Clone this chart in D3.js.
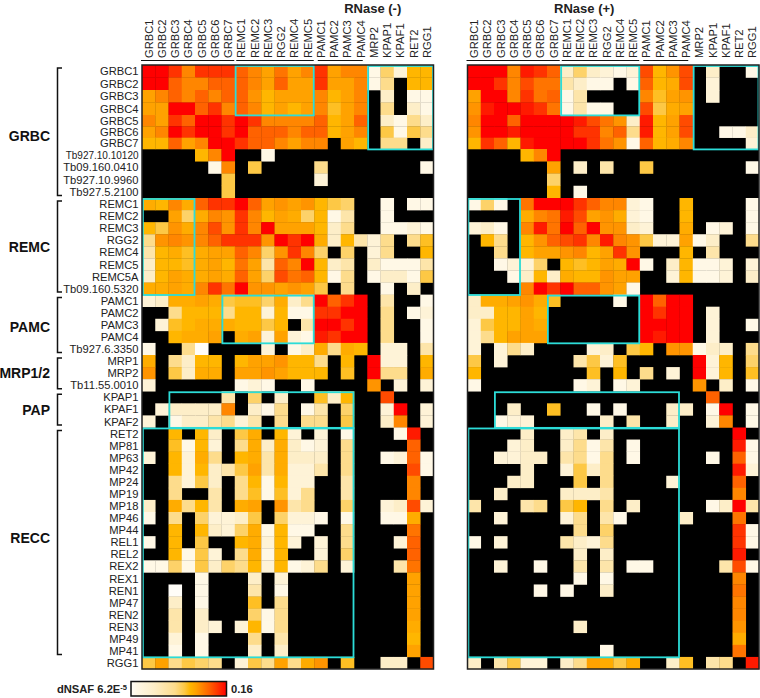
<!DOCTYPE html>
<html>
<head>
<meta charset="utf-8">
<script src="https://cdn.jsdelivr.net/npm/d3@7"></script>
<style>
  html, body { margin: 0; padding: 0; background: #fff; }
  text { font-family: "Liberation Sans", Arial, sans-serif; }
</style>
</head>
<body>
<div id="chart"></div>
<script>
// column and row names
var columns = ["GRBC1","GRBC2","GRBC3","GRBC4","GRBC5","GRBC6","GRBC7","REMC1","REMC2","REMC3","RGG2","REMC4","REMC5","PAMC1","PAMC2","PAMC3","PAMC4","MRP2","KPAP1","KPAF1","RET2","RGG1"]
var rows = ["GRBC1","GRBC2","GRBC3","GRBC4","GRBC5","GRBC6","GRBC7","Tb927.10.10120","Tb09.160.0410","Tb927.10.9960","Tb927.5.2100",
  "REMC1","REMC2","REMC3","RGG2","REMC4","REMC5","REMC5A","Tb09.160.5320",
  "PAMC1","PAMC2","PAMC3","PAMC4","Tb927.6.3350",
  "MRP1","MRP2","Tb11.55.0010",
  "KPAP1","KPAF1","KPAF2",
  "RET2","MP81","MP63","MP42","MP24","MP19","MP18","MP46","MP44","REL1","REL2","REX2","REX1","REN1","MP47","REN2","REN3","MP49","MP41",
  "RGG1"]

// row groups on the left, first row / row after the last one
var rowGroups = [["GRBC",0,11],["REMC",11,19],["PAMC",19,24],["MRP1/2",24,27],["PAP",27,30],["RECC",30,49]]
var columnGroups = [[0,7],[7,13],[13,17]]
// cyan boxes: first col, end col, first row, end row
var boxes = [[7,13,0,4],[17,22,0,7],[0,4,11,19],[6,13,19,23],[2,16,27,30],[0,16,30,49]]

// colour level, 0 = black (not detected), 10 = 0.16 red
var minusRows = [
[10,10,9,7,9,9,9,8,7,6,7.5,6,7,9,6,7,7,1,3.5,1.5,5,5],
[10,10,8,7,7,8,8,8,7,6,8,6,6,9,6,6,7,1,3,0,5,5],
[6,7,8,7,8,7,8,8,6.5,5,6,6,6,7,5,6,7,0,2,0,1,1],
[6,6,10,10,8,9,7,8,7,5,6,5,6,7,4.5,6,7,0,3,0,2,1],
[7,6,9,8,10,10,9,10,9,7,7,7,7,8,5,6,8,0,2,1,3,2],
[6,7,10,9,10,10,9,10,8,8,8,7,8,8,5,6,7,0,4,1,4,3],
[5,5,8,6,7,10,10,9,8,8,7,6,7,7,0,6,5,0,3,3,0,2],
[0,0,0,0,5,7,10,0,0,1,0,0,0,0,0,0,0,0,0,0,0,0],
[0,0,0,0,0,1,7,0,4,0,0,0,0,3,0,0,0,0,0,0,0,1],
[0,0,0,0,0,0,4,0,0,0,0,0,0,1.5,0,0,0,0,0,0,0,0],
[0,0,0,0,0,0,4,0,0,0,0,0,0,0,0,0,0,0,0,0,0,0],
[5.5,5,7,5.5,8,9,9,10,8,6,6.5,6,6.5,5,4,3.5,0,0,1,0,1,1],
[0,0,6,3.5,5.5,7,6.5,9,7,5,6,5.5,3.5,5,1,2.5,0,0,1,0,0,0],
[5,4,6.5,5.5,7,8.5,6.5,9,7,10,6,6,6,5,2,3,0,0,1,1,1.5,1],
[3,6.5,7,6.5,7,8,9,9,9,6.5,10,9,10,5.5,2,5,2.5,1.5,3,0,3,4.5],
[2.5,5,5.5,4.5,5.5,6,6,8,7,3.5,6.5,9,7,3.5,0,3.5,0,1.5,3,0,0,5],
[2,5,5,4.5,5.5,6,5,7.5,6,2.5,8,7,10,5,2,2.5,0,2,1,1,1,2.5],
[2,5,6,5.5,5.5,6,5.5,8,6,3.5,8.5,7.5,8,5,1,3,0,1,2,2,1,4],
[5.5,5.5,6,5.5,7,9,7.5,10,6.5,6.5,6,6.5,6,4,0,3,0,0,1,0,2,0],
[1.5,2,5.5,5.5,6,5.5,4,4.5,4.5,3.5,5.5,2,3,10,8,9,10,0,2.5,0,0,1],
[0,0,3,5,5,5,3,5,5,1.5,5,1,1,9,9,10,10,0,3,0,1,1.5],
[0,1.5,4.5,5,5.5,5.5,5.5,5,5,4,5,0,2.5,10,10,9,10,0,3,0,0,1],
[0,0,5,5.5,5.5,6,0,5.5,6,1.5,6,1.5,1,9.5,9,10,10,0,3,0,0,1],
[1,0,0,3,0.5,0,0,0,0,1.5,0,1,2,5.5,3,5.5,5,0,1.5,1.5,0,2.5],
[5.5,0,3,2,5,5,0,5,6,6,6.5,5,5,3,0,5,0,10,1.5,1.5,0,5],
[6.5,0,4,2,5.5,5.5,0,6,6,6.5,6,5,5,5,0,4.5,0,10,3,3,0,5.5],
[1.5,0,0,0,0,0,0,1,1.5,1,0,0,1,0,0,0,0,6.5,0,1.5,0,1.5],
[0,0,0,0,0,0,2.5,0,3.5,0,2,0,0,4.5,2,5,0,0,8.5,0,0,0],
[0,1.5,2,2,2,2,7,0,2,1,3,0,1,2.5,0,3.5,0,0,1.5,10,0,1.5],
[1.5,0,1,2,2,2.5,3,1.5,2.5,0,3,0,3,3,0,4,0,0,2,7,0,1.5],
[0,0,5,0,5,2,0,4,5.5,0,5,1.5,0,1.5,0,1,0,0,0,1,9.5,0],
[0,0,4.5,1,5,1.5,0,3,5.5,2,5.5,2,1,1.5,0,3,0,0,0,0,8,0],
[1.5,0,5,1.5,5.5,3,0,5,5.5,2.5,5.5,2,2,2,0,3,0,0,1,1.5,8,1],
[0,0,5,1.5,5,2,2.5,4,6,2.5,5.5,1.5,1.5,2.5,0,3,0,0,0,0,8.5,1],
[0,0,3,1.5,4,2,0,3,5,1,5,1.5,1.5,0,0,2.5,0,0,0,0,7,0],
[0,0,3,0,0,2.5,0,3,4.5,1,4.5,1.5,3,0,0,2.5,0,0,0,0,7,0],
[2,0,5.5,3,5,2.5,0,5.5,6,0,6.5,2.5,3,0,0,3.5,0,0,1.5,2,8.5,1.5],
[1,0,3,0,3.5,1.5,1.5,2,4,0,3.5,1.5,1.5,1,0,1,0,0,1,1,5.5,0],
[0,0,5,0,5,2,1.5,3.5,5.5,1,5,1,1,0,0,3,0,0,0,0,7.5,0],
[1,0,5,0,4,0,0,5,5.5,1.5,5,1.5,0,1.5,0,3,0,0,0,1.5,8,0],
[0,0,5,1,4,1.5,0,3,5.5,1,5,0,0,1.5,0,3.5,0,0,0,0,8,0],
[1,1,3.5,1,4,2,3.5,3,5,1.5,5,1,1.5,3,0,1.5,0,0,0,2.5,7.5,0],
[0,0,0,0,1,0,0,0,2,0,1.5,0,0,0,0,0,0,0,0,0,6,0],
[0,0,0.5,0,1,0,0,0,2.5,0,1,0,0,0,0,0,0,0,0,0,6,0],
[0,0,2,0,1,0,0,0,4.5,0,3,0,0,0,0,0,0,0,0,0,6,0],
[0,0,2.5,0,2,0,0,0,3.5,1,3,0,0,0,0,0,0,0,0,0,6,0],
[0,0,2.5,0,2,1.5,0,1.5,5,1,3,0,0,0,0,0,0,0,0,0,5.5,0],
[0,0,1.5,0,1,0,0,0,3,0,2.5,0,0,0,0,0,0,0,0,0,5,0],
[0,0,1,0,1,0,0,0,2,0,2,0,0,0,0,0,0,0,0,0,6,0],
[4,6,3,4,3.5,3,0,1.5,4,3,6,3,5.5,6.5,0,4.5,0,0,2,2,0,8.5]
]

var plusRows = [
[10,10,10,7,9.5,9,8,2,3.5,2,1.5,1,1.5,8.5,5,6.5,8.5,0,2,0,0,1],
[10,10,9,7,8.5,7.5,7.5,2.5,2,1,1,0,1,8,5,5.5,8.5,0,1.5,0,0,0],
[6,10,10,7,9,7.5,8,1,2.5,0,0,0,0,7,4.5,6,6.5,0,1.5,0,0,0],
[6.5,9.5,10,10,9.5,9,7.5,1,2.5,1,1,0,0,8.5,4,5.5,6,0,0,0,0,0],
[7,10,10,8,10,10,10,10,9.5,8.5,7.5,6.5,2,9.5,5,6,8.5,0,0,0,0,0],
[6.5,10,10,9.5,10,10,10,10,9,9,7,8,3,9.5,5,6,8.5,0,0,1,1,2],
[5,9,8,5,9.5,10,10,10,10,9,7.5,6.5,1,8,5,5.5,7,0,0,0,0,1.5],
[0,0,0,0,5,7,10,0,0,0,0,0,0,0,0,0,0,0,0,0,0,0],
[0,0,0,0,0,0,6,0,2,0,2.5,0,0,4,0,0,0,0,0,0,0,1],
[0,0,0,0,0,0,3.5,0,0,0,0,0,0,0,0,0,0,0,0,0,0,0],
[0,0,0,0,0,0,5,0,1,0,0,0,0,0,0,0,0,0,0,0,0,0],
[1,3.5,1,0,7.5,10,10,10,9,8,7,7,1.5,1,0,0,5,0,0,0,0,1],
[0,0,0,0,5.5,7,7.5,9.5,8.5,6,6.5,5.5,1.5,1,0,0,5,0,0,0,0,1],
[1.5,2,1,0,7,9.5,7.5,10,8,10,6.5,6.5,2,1.5,0,0,5.5,0,1,1.5,0,1],
[0,5,3,0,5,6.5,8,8.5,9,7,9.5,7,6.5,4,1.5,1.5,6,1,2,0,0,3],
[0,0,3,0,5,6,6,6.5,7,5,6,9,6.5,0,0,0,5,0,2.5,0,0,0],
[0,0,1,1.5,1.5,3.5,0,5,4.5,5,6,5.5,10,1,0,2,5,1,1,1.5,0,1.5],
[0,0,0,1,2,5,2,5.5,5,5,6.5,6,6,0,0,1.5,5,1,1,1.5,0,2],
[0,0,0,0,7,10,9,10,8,8,6.5,6,1,0,0,0,0,0,0,0,0,0],
[2,5.5,5.5,6,6.5,5.5,4.5,0,0,0,0,1,0,10,8,10,10,0,0,0,0,0],
[2,2,5,5,6,5,0,0,0,0,0,0,0,10,9,10,10,0,1.5,0,0,0],
[1.5,4,5,5,6,5.5,0,0,0,0,0,0,0,10,10,10,10,0,1.5,0,0,1],
[1.5,3,5,6,6,6,0,0,0,0,0,0,0,10,9.5,10,10,0,1.5,0,0,0],
[1.5,0,1.5,3,2,0,0,0,0,1.5,2,0,4,5,0,6.5,6.5,1,2,2,0,3],
[4,0,1.5,0,0,0,0,0,2.5,4,1.5,4.5,0,0,0,0,0,10,1.5,5,0,3.5],
[5,0,0,0,0,0,0,0,0,4.5,0,5,0,3,0,1.5,0,10,1.5,5,0,4.5],
[1,0,0,0,0,0,0,0,1,1.5,0,1,1.5,0,0,0,0,6.5,0,2,0,1],
[0,0,0,0,0,0,0,0,0,0,0,0,0,0,0,0,0,0,8,0,0,0],
[0,0,0,2,0,0,4.5,0,0,1,0,1,0,0,0,2,2,0,1,10,0,1],
[0,0,1,1.5,1.5,0,0,0,0,0,2,0,2.5,0,0,2,0,0,1.5,7,0,1],
[0,0,0,0,2,0,0,2,2.5,0,2,0,0,0,0,0,0,0,0,0,10,0],
[0,0,0,1.5,2,0,0,2,3,1,2.5,0,1,0,0,0,0,0,0,0,9.5,1],
[0,0,1.5,1.5,2,2,0,2.5,3,1,3,0,1,0,0,0,0,0,1,0,8,1],
[0,0,0,0,2,0,0,1.5,4,2,3,0,0,0,0,0,0,0,0,0,9.5,1.5],
[0,0,0,2,2,0,0,0,4,0,3,0,0,0,0,1.5,0,0,0,0,8,0],
[0,0,2,0,0,0,0,2,2,2,2.5,0,0,0,0,0,0,0,0,0,7,0],
[2.5,0,0,0,2.5,3,0,4,5,0,3,0,2,0,0,0,0,0,1,2,10,2.5],
[0,0,1.5,0,0,0,0,1.5,3,0,2.5,1,0,0,0,0,2,0,0,0,7.5,0],
[0,0,0,0,0,0,0,0,3,0,3.5,0,0,0,0,0,0,0,0,0,9,1],
[1,0,1.5,0,0,0,0,2.5,2,1.5,3,0,0,0,0,0,0,0,0,0,9,1],
[0,0,0,0,0,0,0,0,2,0,2,0,0,0,0,0,0,0,0,0,9.5,0],
[0,0,1.5,0,0,1,0,0,2.5,0,2.5,0,1,1,0,0,0,0,0,2.5,8.5,1],
[0,0,0,0,0,0,0,0,1,0,1,0,0,0,0,0,0,0,0,0,7,0],
[0,0,0,0,0,1,0,1,0,0,2,0,0,0,0,0,0,0,0,0,7.5,0],
[0,0,0,0,0,0,0,0,0,0,0,0,0,0,0,0,0,0,0,0,7,0],
[0,0,0,0,0,0,0,0,0,0,0,0,0,0,0,0,0,0,0,0,7,0],
[0,0,0,0,0,0,0,0,2,0,0,0,0,0,0,0,0,0,0,0,6.5,0],
[0,0,0,0,0,0,0,0,0,0,0,0,0,0,0,0,0,0,0,0,5.5,0],
[0,0,0,0,0,0,0,0,0,0,1,0,0,0,0,0,0,0,0,0,7.5,0],
[2,0,2.5,4,1.5,1.5,0,2,3,6,5.5,4,5.5,0,0,2,4.5,0,2.5,3,0,9.5]
]

var levels = [0.5,1,2,3,4,5,6,7,8,9,10]
var levelColors = ["#fffdf8","#fff8e6","#fdeec8","#fddc8c","#fdc845","#ffb600","#ffa200","#ff8600","#ff6200","#ff3300","#ff0000"]
// where each level sits along the legend bar, in percent
var legendStops = [0,6,24,46,56,62,68,74,82,91,100]

var width = 760
var height = 698
var plotTop = 65
var plotBottom = 669

var svg = d3.select("#chart").append("svg")
    .attr("width", width)
    .attr("height", height)
    .style("display", "block")

var color = d3.scaleLinear().domain(levels).range(levelColors)

// the first rows are a bit taller in the figure, so the row scale has breakpoints
var y = d3.scaleLinear().domain([0, 4, 7, 11, rows.length]).range([plotTop, 115, 149, 198, plotBottom])

function drawPanel(values, left, right, title) {
    var x = d3.scaleBand().domain(d3.range(columns.length)).range([left, right])
    var g = svg.append("g")

    // black background, the zero cells just stay black
    g.append("rect")
        .attr("x", left)
        .attr("y", plotTop)
        .attr("width", right - left)
        .attr("height", plotBottom - plotTop)
        .attr("fill", "#000")

    var cells = []
    values.forEach(function(row, r) {
        row.forEach(function(v, c) {
            if (v > 0) cells.push({r: r, c: c, v: v})
        })
    })

    g.selectAll("rect.cell")
        .data(cells)
        .join("rect")
        .attr("class", "cell")
        .attr("x", function(d) { return x(d.c) })
        .attr("y", function(d) { return y(d.r) })
        .attr("width", x.bandwidth() + 0.3)
        .attr("height", function(d) { return y(d.r + 1) - y(d.r) + 0.3 })
        .attr("fill", function(d) { return color(d.v) })

    // cyan boxes
    g.selectAll("rect.box")
        .data(boxes)
        .join("rect")
        .attr("class", "box")
        .attr("x", function(d) { return x(d[0]) + 0.9 })
        .attr("y", function(d) { return y(d[2]) + 1 })
        .attr("width", function(d) { return (d[1] == columns.length ? right : x(d[1])) - x(d[0]) - 1.4 })
        .attr("height", function(d) { return y(d[3]) - y(d[2]) - 0.6 })
        .attr("fill", "none")
        .attr("stroke", "#2cdcd8")
        .attr("stroke-width", 1.8)

    // frame
    g.append("rect")
        .attr("x", left)
        .attr("y", plotTop)
        .attr("width", right - left)
        .attr("height", plotBottom - plotTop)
        .attr("fill", "none")
        .attr("stroke", "#222")
        .attr("stroke-width", 1.5)

    // column names
    var xAxis = d3.axisTop(x).tickSize(0).tickPadding(0).tickFormat(function(i) { return columns[i] })
    var ax = svg.append("g")
        .attr("transform", "translate(0,58)")
        .call(xAxis)
    ax.select(".domain").remove()
    ax.selectAll("text")
        .attr("transform", "rotate(-90)")
        .attr("x", 0)
        .attr("y", 0)
        .attr("dx", 0)
        .attr("dy", "0.36em")
        .attr("text-anchor", "start")
        .style("font-size", "11.2px")
        .style("font-family", '"Liberation Sans", Arial, sans-serif')
        .attr("fill", "#222")

    // lines under the complex members
    svg.selectAll(null)
        .data(columnGroups)
        .enter()
        .append("line")
        .attr("x1", function(d, i) { return x(d[0]) + (i == 2 ? 3.5 : (i == 1 ? 1.5 : -1)) })
        .attr("x2", function(d, i) { return x(d[1]) - (i == 2 ? 4.5 : 0.5) })
        .attr("y1", 60.5)
        .attr("y2", 60.5)
        .attr("stroke", "#111")
        .attr("stroke-width", 1.2)

    svg.append("text")
        .attr("x", (left + right) / 2 + (title == "RNase (-)" ? 85 : -29))
        .attr("y", 12.5)
        .attr("text-anchor", "middle")
        .style("font-size", "13px")
        .style("font-weight", "bold")
        .attr("fill", "#222")
        .text(title)
}

drawPanel(minusRows, 142, 433.5, "RNase (-)")
drawPanel(plusRows, 467.5, 759, "RNase (+)")

// row names, ticks sit in the middle of each row
var yAxis = d3.axisLeft(y)
    .tickValues(d3.range(rows.length).map(function(i) { return i + 0.5 }))
    .tickSize(0)
    .tickPadding(0)
    .tickFormat(function(v) { return rows[v - 0.5] })
var ay = svg.append("g")
    .attr("transform", "translate(138.5,0)")
    .call(yAxis)
ay.select(".domain").remove()
ay.selectAll("text")
    .style("font-size", function(d, i) { return i == 7 ? "10px" : "11.2px" })
    .style("font-family", '"Liberation Sans", Arial, sans-serif')
    .attr("fill", "#222")

// brackets on the left
var groupNudge = [4.5, 0, 1.5, 0, 0, -4.5]
rowGroups.forEach(function(d, i) {
    var y0 = y(d[1]) + 3
    var y1 = y(d[2]) - 2.5
    svg.append("path")
        .attr("d", "M62," + y0 + "H57.5V" + y1 + "H62")
        .attr("fill", "none")
        .attr("stroke", "#111")
        .attr("stroke-width", 1.5)
    svg.append("text")
        .attr("x", 50)
        .attr("y", (y0 + y1) / 2 + groupNudge[i])
        .attr("dy", "0.36em")
        .attr("text-anchor", "end")
        .style("font-size", "14px")
        .style("font-weight", "bold")
        .attr("fill", "#111")
        .text(d[0])
})

// legend
var gradient = svg.append("defs").append("linearGradient").attr("id", "legendGrad")
gradient.selectAll("stop")
    .data(levels)
    .join("stop")
    .attr("offset", function(d, i) { return legendStops[i] + "%" })
    .attr("stop-color", function(d) { return color(d) })

svg.append("rect")
    .attr("x", 131)
    .attr("y", 681.5)
    .attr("width", 95.5)
    .attr("height", 14.5)
    .attr("fill", "url(#legendGrad)")
    .attr("stroke", "#111")
    .attr("stroke-width", 1.5)

var legendLabel = svg.append("text")
    .attr("x", 127)
    .attr("y", 693)
    .attr("text-anchor", "end")
    .style("font-size", "11.2px")
    .style("font-weight", "bold")
    .attr("fill", "#222")
legendLabel.append("tspan").text("dNSAF 6.2E")
legendLabel.append("tspan").attr("dy", -3).style("font-size", "7.5px").text("-5")

svg.append("text")
    .attr("x", 231)
    .attr("y", 693)
    .style("font-size", "11.2px")
    .style("font-weight", "bold")
    .attr("fill", "#222")
    .text("0.16")
</script>
</body>
</html>
